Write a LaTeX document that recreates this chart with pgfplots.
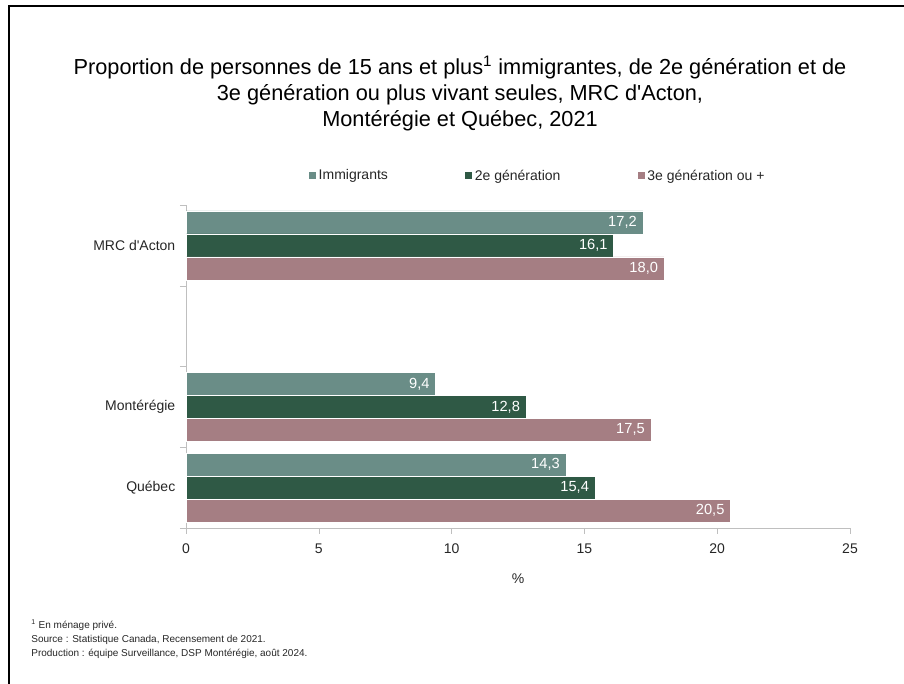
\documentclass[border=0pt]{standalone}
\usepackage{fontspec}
\setmainfont{Liberation Sans}[Ligatures=TeXOff]
\usepackage{pgfplots}
\pgfplotsset{compat=1.18}

\definecolor{immig}{HTML}{6A8D87}
\definecolor{deuxg}{HTML}{2F5945}
\definecolor{troisg}{HTML}{A57E83}
\definecolor{axisgray}{HTML}{BFBFBF}
\definecolor{txt}{HTML}{262626}

\begin{document}
\begin{tikzpicture}
\useasboundingbox (0,0) rectangle (678pt,513pt);
% cadre
\draw[line width=2pt] (6.75pt,0) -- (6.75pt,508.5pt) -- (678pt,508.5pt);
% titre
\node[align=center, font=\fontsize{16.3}{19.5}\selectfont] at (345pt,443pt)
  {Proportion de personnes de 15 ans et plus\textsuperscript{1} immigrantes, de 2e génération et de\\
   3e génération ou plus vivant seules, MRC d'Acton,\\
   Montérégie et Québec, 2021};

\begin{axis}[
  at={(139.5pt,117pt)}, anchor=south west,
  scale only axis, width=498pt, height=242.25pt,
  xbar, bar width=0.285,
  xmin=0, xmax=25, ymin=-0.5, ymax=3.5,
  axis x line*=bottom, axis y line*=left,
  axis line style={draw=axisgray, -},
  xtick={0,5,...,25},
  ytick={0,1,3}, yticklabels={Québec,Montérégie,MRC d'Acton},
  minor ytick={-0.5,0.5,1.5,2.5,3.5},
  major y tick style={draw=none},
  minor y tick style={draw=axisgray},
  x tick style={draw=axisgray},
  tick align=outside,
  major tick length=4.5pt, minor tick length=4.5pt,
  ticklabel style={font=\fontsize{10.5}{12}\selectfont, text=txt},
  xticklabel style={yshift=-4pt},
  /pgf/number format/assume math mode=true,
  xlabel={\%}, xlabel style={font=\fontsize{10.5}{12}\selectfont, text=txt, yshift=-8pt},
  point meta=x,
  nodes near coords={\pgfmathprintnumber[fixed,fixed zerofill,precision=1,use comma]{\pgfplotspointmeta}},
  every node near coord/.append style={anchor=east, text=white, font=\fontsize{11}{12}\selectfont, xshift=-1pt},
  legend columns=3,
  legend cell align=left,
  legend style={at={(0.185,1.09)}, anchor=west, draw=none, fill=none, inner sep=0pt,
    font=\fontsize{10.5}{12}\selectfont, text=txt,
    /tikz/every even column/.append style={column sep=56pt}},
  legend image code/.code={\fill[#1,draw=none] (0pt,-2.6pt) rectangle (5.2pt,2.6pt);},
]
\addplot[fill=immig, draw=white, bar shift=0.285] coordinates {(17.2,3) (9.4,1) (14.3,0)};
\addplot[fill=deuxg, draw=white, bar shift=0] coordinates {(16.1,3) (12.8,1) (15.4,0)};
\addplot[fill=troisg, draw=white, bar shift=-0.285] coordinates {(18.0,3) (17.5,1) (20.5,0)};
\legend{Immigrants, 2e génération, 3e génération ou +}
\end{axis}

% notes
\node[anchor=north west, align=left, font=\fontsize{7.5}{10.5}\selectfont, text=txt] at (20pt,52pt)
  {\textsuperscript{1} En ménage privé.\\
   Source : Statistique Canada, Recensement de 2021.\\
   Production : équipe Surveillance, DSP Montérégie, août 2024.};
\end{tikzpicture}
\end{document}
